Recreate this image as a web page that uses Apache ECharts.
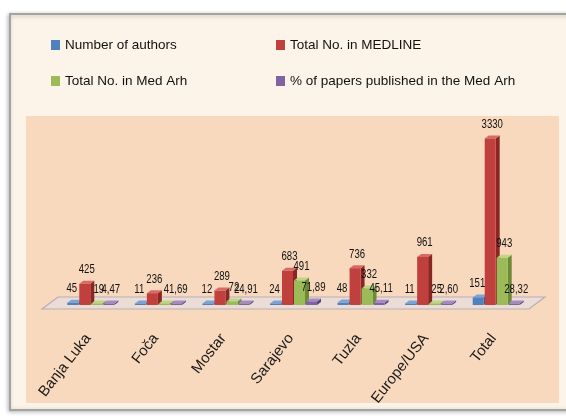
<!DOCTYPE html>
<html>
<head>
<meta charset="utf-8">
<script src="https://cdn.jsdelivr.net/npm/echarts@6/dist/echarts.min.js"></script>
<style>html,body{margin:0;padding:0;background:#fff}#c{width:566px;height:419px}</style>
</head>
<body>
<div id="c"></div>
<script>
const categories = ['Banja Luka', 'Foča', 'Mostar', 'Sarajevo', 'Tuzla', 'Europe/USA', 'Total'];
const seriesNames = ['Number of authors', 'Total No. in MEDLINE', 'Total No. in Med Arh', '% of papers published in the Med Arh'];
const authors = [45, 11, 12, 24, 48, 11, 151];
const medline = [425, 236, 289, 683, 736, 961, 3330];
const medArh = [19, 4, 72, 491, 332, 25, 943];
const percent = [4.47, 1.69, 24.91, 71.89, 45.11, 2.60, 28.32];

const FONT = '"Liberation Sans", Arial, sans-serif';
const colors = [
  {front: '#4f81bd', side: '#2f5b8f', top: '#7aa3d6'},
  {front: '#c0403e', side: '#8a2624', top: '#d86a66'},
  {front: '#9bbb59', side: '#6e8a35', top: '#bcd685'},
  {front: '#8064a2', side: '#5a4478', top: '#a58ac4'}
];
const offsets = [-19, -7, 5, 17];
const labelShift = [-3, 0, 0, 0];
const BW = 11, DX = 4, DY = -3;

function fmt(i, v) {
  return i === 3 ? v.toFixed(2).replace('.', ',') : String(v);
}

function geom(si, api) {
  const ci = api.value(0), v = api.value(1);
  const base = api.coord([ci, 0]);
  const tp = api.coord([ci, v]);
  const xc = base[0] + offsets[si];
  const yb = base[1];
  const yt = Math.min(tp[1], yb - 1.5);
  return {v: v, xc: xc, x0: xc - BW / 2, x1: xc + BW / 2, yb: yb, yt: yt};
}

function barRenderer(si) {
  const c = colors[si];
  return function (params, api) {
    const g = geom(si, api);
    const x0 = g.x0, x1 = g.x1, yt = g.yt, yb = g.yb;
    return {
      type: 'group',
      children: [
        {type: 'polygon', shape: {points: [[x1, yt], [x1 + DX, yt + DY], [x1 + DX, yb + DY], [x1, yb]]}, style: {fill: c.side}},
        {type: 'polygon', shape: {points: [[x0, yt], [x0 + DX, yt + DY], [x1 + DX, yt + DY], [x1, yt]]}, style: {fill: c.top}},
        {type: 'rect', shape: {x: x0, y: yt, width: BW, height: yb - yt}, style: {fill: c.front}}
      ]
    };
  };
}

function labelRenderer(si) {
  return function (params, api) {
    const g = geom(si, api);
    return {
      type: 'text', x: g.xc + DX / 2 + labelShift[si], y: g.yt - 8, scaleX: 0.8,
      style: {text: fmt(si, g.v), fill: '#111', font: '12px ' + FONT, align: 'center', verticalAlign: 'bottom'}
    };
  };
}

function floorRenderer(params, api) {
  const cs = params.coordSys;
  const yb = cs.y + cs.height;
  const l = cs.x - 16, r = cs.x + cs.width - 2;
  return {
    type: 'polygon', silent: true,
    shape: {points: [[l, yb + 4], [r, yb + 4], [r + 16, yb - 8], [l + 16, yb - 8]]},
    style: {fill: '#ecdcd6', stroke: '#b7adb8', lineWidth: 1.2}
  };
}

const allData = [authors, medline, medArh, percent];
const series = [{
  type: 'custom', name: 'floor', renderItem: floorRenderer, data: [[0, 0]], z: 1, silent: true,
  encode: {x: 0, y: 1}
}];
allData.forEach(function (arr, si) {
  series.push({
    type: 'custom', name: seriesNames[si], renderItem: barRenderer(si), z: 2,
    itemStyle: {color: colors[si].front},
    encode: {x: 0, y: 1},
    data: arr.map(function (v, i) { return [i, v]; })
  });
});
allData.forEach(function (arr, si) {
  series.push({
    type: 'custom', name: seriesNames[si] + ' (labels)', renderItem: labelRenderer(si), z: 3, silent: true,
    encode: {x: 0, y: 1},
    data: arr.map(function (v, i) { return [i, v]; })
  });
});

const legPos = [[51, 38], [276, 38], [51, 74], [276, 74]];
const legend = seriesNames.map(function (n, i) {
  return {
    data: [n], left: legPos[i][0], top: legPos[i][1], icon: 'rect', itemWidth: 9, itemHeight: 10,
    itemGap: 0, selectedMode: false, padding: 0,
    textStyle: {fontFamily: FONT, fontSize: 13.5, color: '#111'}
  };
});

const chart = echarts.init(document.getElementById('c'), null, {renderer: 'canvas'});
chart.setOption({
  animation: false,
  backgroundColor: '#ffffff',
  graphic: [
    {type: 'rect', z: -10, shape: {x: 10, y: 14, width: 570, height: 396},
     style: {fill: '#fdf4e9', stroke: '#a3a3a3', lineWidth: 2, shadowBlur: 4, shadowColor: 'rgba(0,0,0,0.25)', shadowOffsetX: -1, shadowOffsetY: 1}},
    {type: 'rect', z: -9, shape: {x: 26, y: 116, width: 533, height: 287}, style: {fill: '#f9d9bd'}}
  ],
  legend: legend,
  grid: {left: 58, right: 35, top: 120, bottom: 114},
  xAxis: {
    type: 'category', data: categories,
    axisLine: {show: false}, axisTick: {show: false},
    axisLabel: {rotate: 52, margin: 26, padding: [0, 6, 0, 0], fontFamily: FONT, fontSize: 15, color: '#1a1a1a', interval: 0}
  },
  yAxis: {type: 'value', min: 0, max: 3700, show: false, splitLine: {show: false}},
  series: series
});
</script>
</body>
</html>
